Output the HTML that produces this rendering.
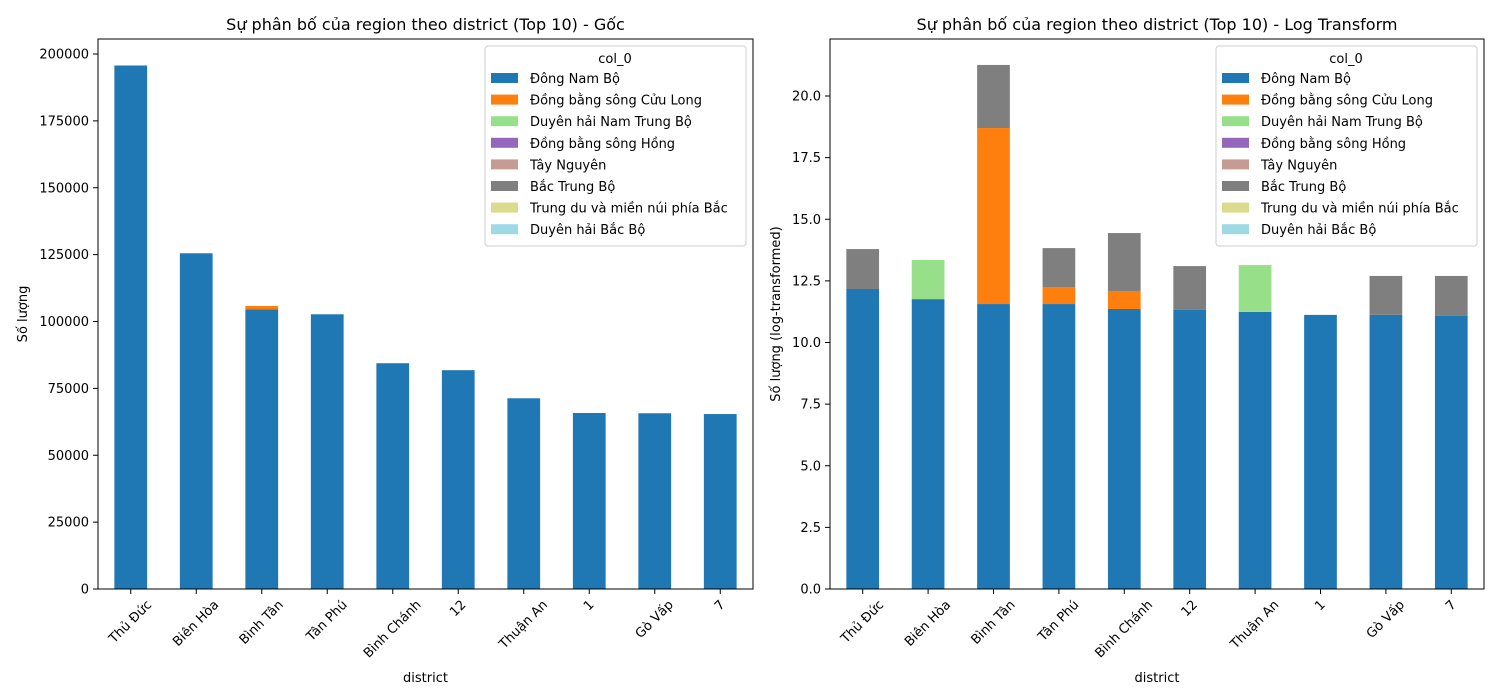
<!DOCTYPE html>
<html><head><meta charset="utf-8">
<style>
body{margin:0;background:#fff;}
svg{display:block;font-family:"DejaVu Sans","Liberation Sans",sans-serif;}
</style></head>
<body>
<svg id="fig" width="1500" height="700"></svg>
<script>
const categories = ["Thủ Đức","Biên Hòa","Bình Tân","Tân Phú","Bình Chánh","12","Thuận An","1","Gò Vấp","7"];
const seriesNames = ["Đông Nam Bộ","Đồng bằng sông Cửu Long","Duyên hải Nam Trung Bộ","Đồng bằng sông Hồng","Tây Nguyên","Bắc Trung Bộ","Trung du và miền núi phía Bắc","Duyên hải Bắc Bộ"];
const seriesColors = ["#1f77b4","#ff7f0e","#98df8a","#9467bd","#c49c94","#7f7f7f","#dbdb8d","#9edae5"];
// raw counts
const rawDongNamBo = [195700,125500,104600,102700,84400,81800,71300,65800,65700,65400];
const rawCuuLong = [0,0,1200,0,0,0,0,0,0,0];
const rawNamTrungBo = [0,0,0,0,0,0,0,0,0,0];
const rawBacTrungBo = [0,0,0,0,0,0,0,0,0,0];
// log values
const logDongNamBo = [12.17,11.76,11.56,11.56,11.36,11.32,11.24,11.12,11.12,11.09];
const logCuuLong = [0,0,7.14,0.69,0.73,0,0,0,0,0];
const logNamTrungBo = [0,1.59,0,0,0,0,1.90,0,0,0];
const logBacTrungBo = [1.62,0,2.56,1.58,2.35,1.78,0,0,1.58,1.61];
const leftTicks = [0,25000,50000,75000,100000,125000,150000,175000,200000];
const rightTicks = [0,2.5,5,7.5,10,12.5,15,17.5,20];
const rightTickLabels = ["0.0","2.5","5.0","7.5","10.0","12.5","15.0","17.5","20.0"];

const NS="http://www.w3.org/2000/svg";
const svg=document.getElementById('fig');
function mk(tag,attrs,parent,text){const e=document.createElementNS(NS,tag);for(const k in attrs)e.setAttribute(k,attrs[k]);if(text!==undefined)e.textContent=text;(parent||svg).appendChild(e);return e;}

function panel(opt){
  const g=mk('g',{});
  
  
  const x0=opt.x0,x1=opt.x1,y0=39,y1=589;
  const ymap=v=>y1-(v/opt.ymax)*(y1-y0);
  const step=(x1-x0)/10;
  const xc=i=>x0+step*(i+0.5);
  const bw=step*0.5;
  const series=opt.series;
  categories.forEach((c,i)=>{
    let base=0;
    series.forEach(s=>{
      const v=s.vals[i]; if(v<=0) return;
      const r=mk('rect',{x:xc(i)-bw/2,y:ymap(base+v),width:bw,height:ymap(base)-ymap(base+v),fill:seriesColors[s.idx]},g);
      
      
      base+=v;
    });
  });
  const fr=mk('rect',{x:x0,y:y0,width:x1-x0,height:y1-y0,fill:'none',stroke:'#000','stroke-width':1},g);
  
  
  opt.ticks.forEach((t,k)=>{
    const y=ymap(t);
    mk('line',{x1:x0-5,x2:x0,y1:y,y2:y,stroke:'#000'},g);
    const tx=mk('text',{x:x0-9,y:y+4.5,'text-anchor':'end','font-size':13},g,opt.tickLabels[k]);
    
    
  });
  categories.forEach((c,i)=>{
    const x=xc(i);
    mk('line',{x1:x,x2:x,y1:y1,y2:y1+5,stroke:'#000'},g);
    const tx=mk('text',{x:x,y:0,'text-anchor':'middle','dominant-baseline':'central','font-size':13},g,c);
    
    
    const L=tx.getComputedTextLength();
    const cy=y1+9+(L+14)*0.354;
    tx.setAttribute('y',cy);
    tx.setAttribute('transform',`rotate(-45 ${x} ${cy})`);
  });
  const xt=mk('text',{x:(x0+x1)/2,y:682,'text-anchor':'middle','font-size':13},g,'district');
  
  
  const yt=mk('text',{x:0,y:0,'text-anchor':'middle','font-size':13,transform:`translate(${opt.ytx} ${(y0+y1)/2}) rotate(-90)`},g,opt.ylabel);
  
  
  const tt=mk('text',{x:(x0+x1)/2,y:30,'text-anchor':'middle','font-size':16},g,opt.title);
  
  
  const lx=x1-268,ly=46;
  const lg=mk('g',{},g);
  
  
  mk('rect',{x:lx,y:ly,width:261,height:200,rx:3,fill:'#fff','fill-opacity':0.8,stroke:'#ccc'},lg);
  mk('text',{x:lx+130,y:ly+17,'text-anchor':'middle','font-size':13},lg,'col_0');
  seriesNames.forEach((n,k)=>{
    const yy=ly+32+k*21.6;
    const e=mk('g',{},lg);
    
    
    mk('rect',{x:lx+6,y:yy-5,width:27,height:10,fill:seriesColors[k]},e);
    mk('text',{x:lx+45,y:yy+5,'font-size':13},e,n);
  });
}
panel({name:'chart-original',x0:98,x1:753,ymax:200000*(550/535),ticks:leftTicks,tickLabels:leftTicks.map(String),ylabel:'Số lượng',ytx:27,
  title:'Sự phân bố của region theo district (Top 10) - Gốc',
  series:[{idx:0,key:'dongnambo',vals:rawDongNamBo},{idx:1,key:'cuulong',vals:rawCuuLong},{idx:2,key:'namtrungbo',vals:rawNamTrungBo},{idx:5,key:'bactrungbo',vals:rawBacTrungBo}]});
panel({name:'chart-log',x0:830,x1:1484,ymax:20*(550/493),ticks:rightTicks,tickLabels:rightTickLabels,ylabel:'Số lượng (log-transformed)',ytx:780,
  title:'Sự phân bố của region theo district (Top 10) - Log Transform',
  series:[{idx:0,key:'dongnambo',vals:logDongNamBo},{idx:1,key:'cuulong',vals:logCuuLong},{idx:2,key:'namtrungbo',vals:logNamTrungBo},{idx:5,key:'bactrungbo',vals:logBacTrungBo}]});
</script>
</body></html>
